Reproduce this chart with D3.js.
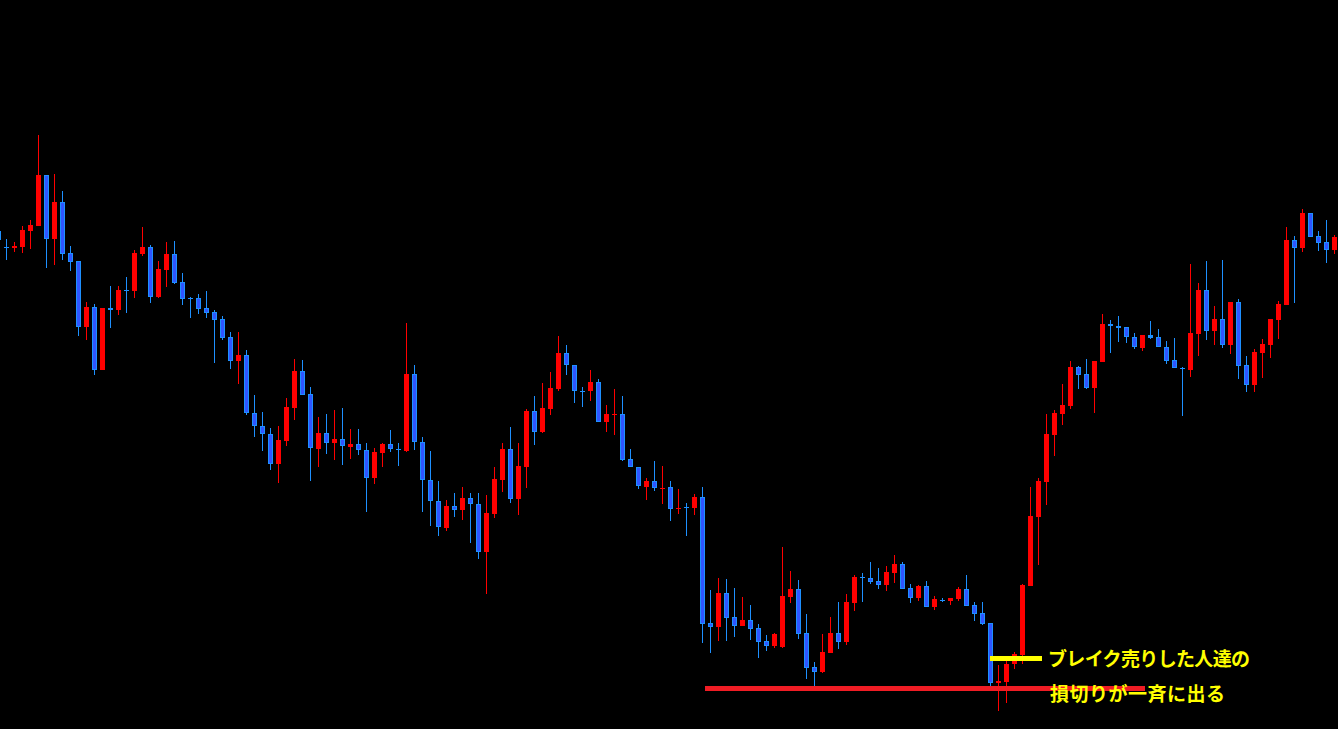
<!DOCTYPE html>
<html><head><meta charset="utf-8">
<script src="https://cdn.jsdelivr.net/npm/d3@7"></script>
<style>html,body{margin:0;padding:0;background:#000;overflow:hidden}</style>
</head><body>
<svg id="chart" width="1338" height="729"></svg>
<script>
// Candle OHLC data (index -1 .. 166)
const openVals  = [769,753,752,753,769,774,825,761,798,747,739,673,693,630,692,690,710,709,746,753,703,730,746,718,702,702,692,688,681,663,639,645,587,574,566,536,559,592,629,606,551,567,557,561,553,556,550,522,547,556,551,549,626,558,520,499,472,494,490,502,496,448,486,520,551,501,533,589,568,591,611,647,635,609,609,618,578,585,586,541,533,513,519,511,513,491,493,492,503,377,373,407,383,374,380,372,359,354,353,403,411,367,333,328,347,367,358,397,423,422,419,415,427,436,412,402,414,393,400,399,401,411,395,387,377,317,318,336,345,414,483,518,565,586,594,633,626,612,638,676,674,673,663,652,665,663,653,640,632,630,666,710,669,681,655,698,635,615,647,655,680,695,760,752,787,764,758,750];
const highVals  = [774,761,758,774,780,865,825,826,809,754,739,698,696,692,714,714,723,750,773,755,739,758,759,727,703,706,709,690,684,668,668,650,605,588,572,574,602,641,640,613,583,586,590,592,571,571,557,552,557,570,557,677,635,563,549,519,500,507,513,507,507,505,533,557,573,557,591,604,617,628,664,655,635,613,630,621,595,611,604,551,533,522,539,534,519,511,497,506,513,410,422,421,412,403,395,376,365,367,453,429,420,386,338,366,383,398,406,425,427,438,432,434,445,438,416,415,419,404,402,402,413,425,398,398,377,335,339,348,416,513,522,586,590,616,639,634,641,639,686,680,684,673,667,665,679,671,659,662,633,736,717,739,694,740,698,701,644,651,661,681,699,773,764,791,787,769,780,765];
const lowVals   = [753,740,748,747,751,774,732,735,740,729,664,660,625,630,672,685,687,702,744,697,702,713,716,695,682,686,682,637,660,631,616,585,563,549,530,517,554,580,605,519,533,546,540,535,541,545,488,516,533,548,534,548,550,488,474,464,469,483,480,457,441,406,482,508,497,485,512,555,567,585,609,625,597,593,599,578,568,565,539,533,511,500,509,496,479,486,464,485,357,347,359,359,363,374,360,342,349,352,352,397,361,321,314,327,347,351,355,389,398,416,411,409,417,411,397,399,393,390,398,395,399,394,379,375,314,289,297,331,336,414,435,495,544,575,591,611,611,587,638,647,658,657,651,649,661,653,636,632,584,623,644,660,655,652,646,621,608,608,622,642,661,695,697,748,763,749,737,746];
const closeVals = [760,752,754,770,775,825,761,798,746,738,673,693,630,692,690,710,709,747,753,703,731,746,717,701,701,691,687,680,662,639,645,587,574,566,536,560,593,629,605,552,567,557,561,554,556,550,522,548,556,551,550,626,558,520,499,473,494,490,502,496,448,487,521,551,501,534,589,568,592,612,647,635,609,608,618,578,586,586,540,533,514,519,512,512,491,492,492,503,376,373,407,382,374,380,371,358,354,366,404,411,366,332,328,348,367,358,398,423,422,418,415,428,436,411,402,414,393,401,399,402,411,394,386,376,317,319,336,346,415,484,519,566,587,595,633,625,612,639,676,674,672,663,653,665,662,653,639,632,631,667,710,669,681,655,698,634,615,648,656,681,696,760,752,787,763,757,750,763];
const firstIndex = -1;

// Annotation data
const stopLevel = 312;          // stop-loss cluster level
const stopRange = [87.4, 142.4]; // candle index span of the level line
const breakLevel = 342;
const breakRange = [123, 129.5];
const noteLines = ["ブレイク売りした人達の", "損切りが一斉に出る"];

const W = 1338, H = 729;
const candles = openVals.map((o, i) => ({i: i + firstIndex, o, h: highVals[i], l: lowVals[i], c: closeVals[i]}));

const x = d3.scaleLinear().domain([-1, 166]).range([-2, 1334]);
const y = d3.scaleLinear().domain([1000, 271]).range([0, 729]);

const svg = d3.select("#chart").attr("shape-rendering", "crispEdges");
svg.append("rect").attr("width", W).attr("height", H).attr("fill", "#000");

const UP = "#ff0000", DOWN_EDGE = "#1e90ff", DOWN_FILL = "#2f55ff";
const g = svg.append("g");
const cg = g.selectAll("g.c").data(candles).join("g").attr("class", "c");

cg.append("rect") // wick
  .attr("x", d => Math.round(x(d.i)))
  .attr("width", 1)
  .attr("y", d => Math.round(y(d.h)))
  .attr("height", d => Math.max(1, Math.round(y(d.l)) - Math.round(y(d.h))))
  .attr("fill", d => d.c >= d.o ? UP : DOWN_EDGE);

cg.append("rect") // body outer
  .attr("x", d => Math.round(x(d.i)) - 2)
  .attr("width", 5)
  .attr("y", d => Math.round(y(Math.max(d.o, d.c))))
  .attr("height", d => Math.max(1, Math.round(y(Math.min(d.o, d.c))) - Math.round(y(Math.max(d.o, d.c)))))
  .attr("fill", d => d.c >= d.o ? UP : DOWN_EDGE);

cg.filter(d => d.c < d.o && (y(d.c) - y(d.o)) >= 3).append("rect") // body inner
  .attr("x", d => Math.round(x(d.i)) - 1)
  .attr("width", 3)
  .attr("y", d => Math.round(y(d.o)) + 1)
  .attr("height", d => Math.round(y(d.c)) - Math.round(y(d.o)) - 2)
  .attr("fill", DOWN_FILL);

// Annotation lines
svg.append("line")
  .attr("x1", x(stopRange[0])).attr("x2", x(stopRange[1]))
  .attr("y1", y(stopLevel)).attr("y2", y(stopLevel))
  .attr("stroke", "#f01c24").attr("stroke-width", 5);
svg.append("line")
  .attr("x1", x(breakRange[0])).attr("x2", x(breakRange[1]))
  .attr("y1", y(breakLevel)).attr("y2", y(breakLevel))
  .attr("stroke", "#ffff00").attr("stroke-width", 5);

// Annotation text
svg.append("g").attr("shape-rendering", "auto")
  .selectAll("text").data(noteLines).join("text")
  .attr("x", (d, i) => i === 0 ? 1048 : 1050)
  .attr("y", (d, i) => i === 0 ? 666 : 701)
  .attr("fill", "#ffff00")
  .attr("font-family", "'Noto Sans CJK JP', sans-serif")
  .attr("font-weight", "bold")
  .attr("font-size", 19)
  .attr("textLength", (d, i) => i === 0 ? 202 : 175)
  .attr("lengthAdjust", "spacing")
  .text(d => d);
</script>
</body></html>
